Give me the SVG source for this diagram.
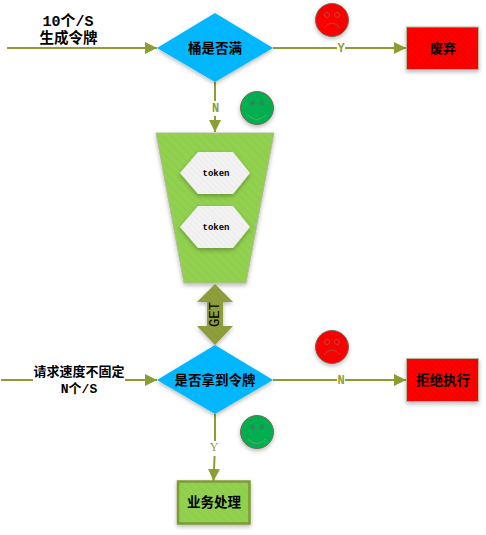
<svg xmlns="http://www.w3.org/2000/svg" width="486" height="535" viewBox="0 0 486 535">
<style>
.t{font-family:"Liberation Mono","Noto Sans CJK SC",monospace;font-weight:700;fill:#000;text-anchor:middle}
.l{fill:none;stroke:#8a9e33;stroke-width:2}
.ll{font-family:"Liberation Mono",monospace;font-size:12px;font-weight:700;fill:#8a9e33;text-anchor:middle}
.edge{stroke:#b5b89a;stroke-width:1}
.face{stroke:#7a6a5a;stroke-width:1}
.eye{stroke-width:1}
</style>
<defs>
<filter id="s" x="-20%" y="-20%" width="140%" height="140%"><feDropShadow dx="0" dy="2" stdDeviation="2" flood-color="#000" flood-opacity=".28"/></filter>
<marker id="a" markerUnits="userSpaceOnUse" markerWidth="13" markerHeight="14" refX="12" refY="6" orient="auto"><path d="M0 0L12 6L0 12z" fill="#8a9e33"/></marker>
<pattern id="pb" width="6" height="6" patternUnits="userSpaceOnUse" patternTransform="rotate(-45)"><rect width="6" height="6" fill="#00b8ff"/><rect width="1" height="6" fill="#0cb0f2"/></pattern>
<pattern id="pg" width="6" height="6" patternUnits="userSpaceOnUse" patternTransform="rotate(-45)"><rect width="6" height="6" fill="#92d050"/><rect width="2" height="6" fill="#8fcd4d"/></pattern>
<pattern id="pr" width="4" height="4" patternUnits="userSpaceOnUse" patternTransform="rotate(-45)"><rect width="4" height="4" fill="#ff0000"/><rect width="1" height="4" fill="#f00000"/></pattern>
<pattern id="pw" width="4" height="4" patternUnits="userSpaceOnUse" patternTransform="rotate(-45)"><rect width="4" height="4" fill="#f2f2f2"/><rect width="1" height="4" fill="#ececec"/></pattern>
<pattern id="pd" width="6" height="6" patternUnits="userSpaceOnUse" patternTransform="rotate(-45)"><rect width="6" height="6" fill="#00b050"/><rect width="1" height="6" fill="#0aa850"/></pattern>
<pattern id="po" width="5" height="5" patternUnits="userSpaceOnUse" patternTransform="rotate(-45)"><rect width="5" height="5" fill="#8f9e3c"/><rect width="1" height="5" fill="#8a9938"/></pattern>
</defs>
<g id="connectors">
<path class="l" marker-end="url(#a)" d="M7 48H157"/>
<path class="l" marker-end="url(#a)" d="M273 48H406"/>
<path class="l" marker-end="url(#a)" d="M215 82V132"/>
<path class="l" marker-end="url(#a)" d="M1 380H157"/>
<path class="l" marker-end="url(#a)" d="M273 380H406"/>
<path class="l" marker-end="url(#a)" d="M215 414V447L213.500 481"/>
<rect x="337" y="42" width="8" height="12" fill="#fff"/><text class="ll" x="341" y="52">Y</text>
<rect x="211" y="101" width="9" height="15" fill="#fff"/><text class="ll" x="215.500" y="112">N</text>
<rect x="337" y="374" width="8" height="12" fill="#fff"/><text class="ll" x="341" y="384">N</text>
<rect x="209" y="441" width="10" height="15" fill="#fff"/><text class="ll" x="214" y="451" style="font-weight:400;font-family:'Liberation Serif',serif">Y</text>
<rect x="33" y="372" width="92" height="14" fill="#fff"/>
</g>
<g id="input1"><text class="t" font-size="15" x="68" y="26">10个/S</text><text class="t" font-size="14.500" x="68.500" y="43">生成令牌</text></g>
<g id="full"><path filter="url(#s)" d="M215 13L273 48L215 82L157 48z" fill="url(#pb)"/><text class="t" font-size="13.500" x="215" y="53">桶是否满</text></g>
<g id="discard"><rect filter="url(#s)" class="edge" x="406.500" y="27" width="72" height="42.500" fill="url(#pr)"/><text class="t" font-size="13" x="443" y="53">废弃</text></g>
<g id="sad1"><circle filter="url(#s)" class="face" cx="332" cy="20" r="16.500" fill="url(#pr)"/><circle class="eye" cx="327" cy="15" r="2.500" fill="none" stroke="#b5483a"/><circle class="eye" cx="337" cy="15" r="2.500" fill="none" stroke="#b5483a"/><path d="M324 28Q332 18 340 28" fill="none" stroke="#b5483a"/></g>
<g id="smile1"><circle filter="url(#s)" class="face" cx="257" cy="108" r="16.500" fill="url(#pd)"/><circle cx="252.500" cy="103" r="2.500" fill="#2a8a5a"/><circle cx="262" cy="103" r="2.500" fill="#2a8a5a"/><path d="M248 115Q257 124 266 115" fill="none" stroke="#45b070"/></g>
<g id="bucket"><path filter="url(#s)" class="edge" d="M156 133H274L246 283H184z" fill="url(#pg)"/></g>
<g id="token1"><path filter="url(#s)" d="M198 152H233L250 173L233 194H198L180 173z" fill="url(#pw)"/><text class="t" font-size="9" x="216" y="176">token</text></g>
<g id="token2"><path filter="url(#s)" d="M198 206H233L250 227L233 248H198L180 227z" fill="url(#pw)"/><text class="t" font-size="9" x="216" y="230">token</text></g>
<g id="get"><path filter="url(#s)" d="M215 284L233 302H223V326H233L215 345L197 326H207V302H197z" fill="url(#po)"/><text font-family="Liberation Mono,monospace" font-size="14" text-anchor="middle" transform="translate(219 314.500) rotate(-90)">GET</text></g>
<g id="check"><path filter="url(#s)" d="M215 345L273 380L215 414L157 380z" fill="url(#pb)"/><text class="t" font-size="13.500" x="215" y="385">是否拿到令牌</text></g>
<g id="input2"><text class="t" font-size="13" x="79" y="376">请求速度不固定</text><text class="t" font-size="13" x="79" y="393">N个/S</text></g>
<g id="reject"><rect filter="url(#s)" class="edge" x="406.500" y="358.500" width="72" height="43" fill="url(#pr)"/><text class="t" font-size="13.500" x="443" y="385">拒绝执行</text></g>
<g id="sad2"><circle filter="url(#s)" class="face" cx="332" cy="347" r="16.500" fill="url(#pr)"/><circle class="eye" cx="327" cy="342" r="2.500" fill="none" stroke="#b5483a"/><circle class="eye" cx="337" cy="342" r="2.500" fill="none" stroke="#b5483a"/><path d="M324 355Q332 345 340 355" fill="none" stroke="#b5483a"/></g>
<g id="smile2"><circle filter="url(#s)" class="face" cx="257" cy="432" r="16.500" fill="url(#pd)"/><circle cx="252.500" cy="427" r="2.500" fill="#2a8a5a"/><circle cx="262" cy="427" r="2.500" fill="#2a8a5a"/><path d="M248 439Q257 448 266 439" fill="none" stroke="#45b070"/></g>
<g id="process"><rect filter="url(#s)" x="178" y="481.500" width="71.500" height="42" fill="url(#pg)" stroke="#7f9a35" stroke-width="2.500"/><text class="t" font-size="13.500" x="214" y="507">业务处理</text></g>
</svg>
